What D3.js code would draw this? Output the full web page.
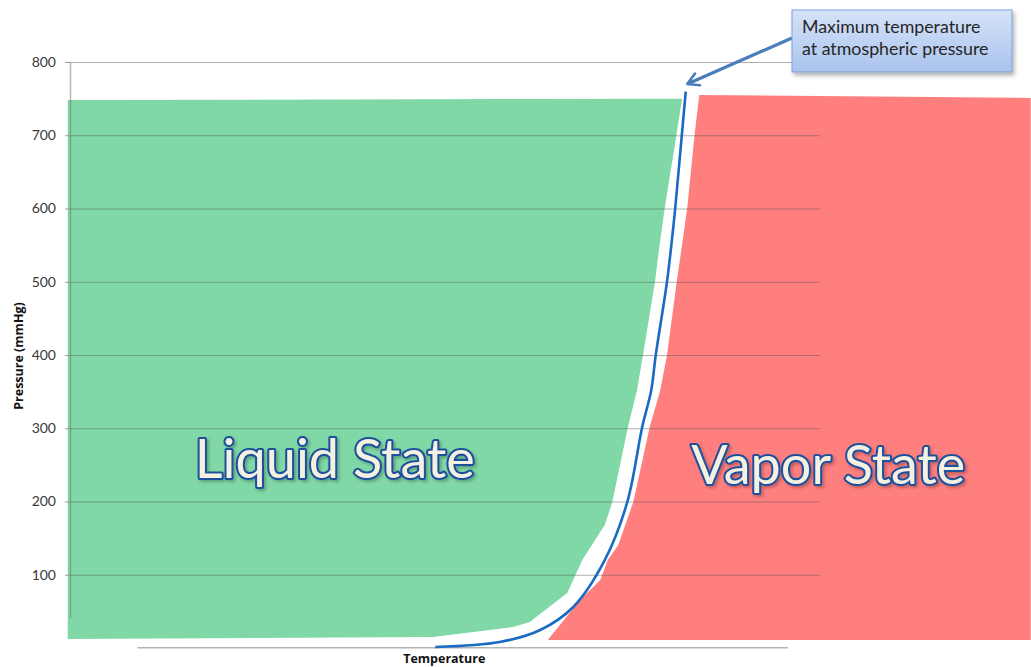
<!DOCTYPE html>
<html>
<head>
<meta charset="utf-8">
<script src="https://cdn.jsdelivr.net/npm/d3@7"></script>
<style>
  html, body { margin: 0; padding: 0; background: #ffffff; }
  svg { display: block; }
</style>
</head>
<body>
<svg id="chart" width="1031" height="667"></svg>
<script>
// ---- data (temperature in arbitrary units, pressure in mmHg) ----
const yTicks = [100, 200, 300, 400, 500, 600, 700, 800];

const curveTemp     = [48.7, 57.3, 62.7, 67.1, 71.3, 74.3, 76.3, 77.5, 78.1, 79.6, 80.4, 80.7, 81.6, 82.1];
const curvePressure = [1.4, 8.2, 24.6, 56, 120, 199, 302, 352, 400, 500, 571, 601, 703, 759.5];

const liquidTemp     = [-0.3, 48.4, 59.1, 61.3, 66.3, 68.3, 71.3, 72.3, 74.4, 75.6, 76.4, 78.0, 78.7, 79.3, 80.9, 81.6, -0.3];
const liquidPressure = [12.3, 15, 28.7, 35.5, 75, 120, 168, 199, 302, 352, 400, 500, 557, 601, 703, 750, 748];

const vaporTemp     = [63.7, 68.0, 70.7, 71.7, 73.1, 75.1, 77.3, 78.7, 79.6, 80.9, 81.7, 82.3, 83.3, 83.9, 128.1, 128.1];
const vaporPressure = [11, 65.5, 92.8, 120, 140.6, 199, 302, 352, 400, 500, 557, 601, 703, 755, 751, 11];

const regionLabels = ["Liquid State", "Vapor State"];
const regionLabelTemp = [35.3, 101.1];
const regionLabelPressure = [232, 224];

const calloutLines = ["Maximum temperature", "at atmospheric pressure"];
const xTitle = "Temperature";
const yTitle = "Pressure (mmHg)";

// ---- scales ----
const svg = d3.select("#chart");
const x = d3.scaleLinear().domain([0, 100]).range([70, 820]);
const y = d3.scaleLinear().domain([0, 800]).range([648, 62]);

const defs = svg.append("defs");
const grad = defs.append("linearGradient").attr("id", "boxGrad").attr("x1", 0).attr("y1", 0).attr("x2", 0).attr("y2", 1);
grad.append("stop").attr("offset", "0%").attr("stop-color", "#d6e3f8");
grad.append("stop").attr("offset", "100%").attr("stop-color", "#a9c3ee");
const shadow = defs.append("filter").attr("id", "shadow").attr("x", "-10%").attr("y", "-10%").attr("width", "130%").attr("height", "140%");
shadow.append("feDropShadow").attr("dx", 2).attr("dy", 3).attr("stdDeviation", 2).attr("flood-color", "#000").attr("flood-opacity", 0.3);
const tshadow = defs.append("filter").attr("id", "tshadow").attr("x", "-5%").attr("y", "-10%").attr("width", "115%").attr("height", "130%");
tshadow.append("feDropShadow").attr("dx", 2).attr("dy", 2).attr("stdDeviation", 1.5).attr("flood-color", "#000").attr("flood-opacity", 0.25);
defs.append("marker").attr("id", "arrowHead").attr("viewBox", "0 0 10 10")
  .attr("refX", 8).attr("refY", 5).attr("markerWidth", 5).attr("markerHeight", 5)
  .attr("orient", "auto")
  .append("path").attr("d", "M1,1 L8,5 L1,9").attr("fill", "none")
  .attr("stroke", "#4a7ebb").attr("stroke-width", 1.6).attr("stroke-linecap", "round").attr("stroke-linejoin", "round");

// ---- regions ----
const poly = d3.line().x(d => x(d[0])).y(d => y(d[1]));
svg.append("path")
  .attr("d", poly(liquidTemp.map((t, i) => [t, liquidPressure[i]])) + "Z")
  .attr("fill", "#80d8a7");
svg.append("path")
  .attr("d", poly(vaporTemp.map((t, i) => [t, vaporPressure[i]])) + "Z")
  .attr("fill", "#ff7f7f");

// ---- gridlines & axes ----
svg.append("g").selectAll("line").data(yTicks).join("line")
  .attr("x1", x(0)).attr("x2", x(100))
  .attr("y1", d => y(d) + 0.5).attr("y2", d => y(d) + 0.5)
  .attr("stroke", "#505050").attr("stroke-opacity", 0.45).attr("stroke-width", 1);

const yAxis = svg.append("g").attr("transform", `translate(${x(0)},0)`)
  .call(d3.axisLeft(y).tickValues(yTicks).tickSize(5).tickPadding(9).tickFormat(d3.format("d")));
yAxis.select(".domain").remove();
yAxis.selectAll(".tick line").attr("stroke", "#9a9a9a");
yAxis.selectAll("text").attr("font-family", "Lato, 'Open Sans', sans-serif").attr("font-size", 14).attr("fill", "#3a3a3a");
svg.append("line").attr("x1", x(0) + 0.5).attr("x2", x(0) + 0.5).attr("y1", y(800)).attr("y2", y(41))
  .attr("stroke", "#707070").attr("stroke-opacity", 0.5).attr("stroke-width", 1.5);

svg.append("line").attr("x1", x(9)).attr("x2", x(95.7)).attr("y1", y(0.5)).attr("y2", y(0.5))
  .attr("stroke", "#b4b4b4").attr("stroke-width", 1.5);

svg.append("text").text(xTitle)
  .attr("x", x(49.9)).attr("y", 663).attr("text-anchor", "middle")
  .attr("font-family", "'Open Sans', sans-serif").attr("font-weight", "bold").attr("font-size", 12.5).attr("fill", "#111");
svg.append("text").text(yTitle)
  .attr("transform", `translate(23,${y(400) + 1}) rotate(-90)`).attr("text-anchor", "middle")
  .attr("font-family", "'Open Sans', sans-serif").attr("font-weight", "bold").attr("font-size", 12.5).attr("fill", "#111");

// ---- vapor pressure curve ----
const curve = d3.line().x(d => x(d[0])).y(d => y(d[1])).curve(d3.curveCatmullRom.alpha(0.5));
svg.append("path")
  .attr("d", curve(curveTemp.map((t, i) => [t, curvePressure[i]])))
  .attr("fill", "none").attr("stroke", "#1a6ac4").attr("stroke-width", 2.6);

// ---- region labels ----
svg.append("g").selectAll("text").data(regionLabels).join("text")
  .text(d => d)
  .attr("x", (d, i) => x(regionLabelTemp[i])).attr("y", (d, i) => y(regionLabelPressure[i]))
  .attr("text-anchor", "middle")
  .attr("font-family", "Lato, 'Open Sans', sans-serif").attr("font-size", 55)
  .attr("textLength", (d, i) => i === 0 ? 280 : 274).attr("lengthAdjust", "spacingAndGlyphs")
  .attr("fill", "#f4f1e2").attr("stroke", "#1f4f9c").attr("stroke-width", 4.2)
  .attr("paint-order", "stroke").attr("stroke-linejoin", "round")
  .attr("filter", "url(#tshadow)");

// ---- callout ----
svg.append("line")
  .attr("x1", 792).attr("y1", 38).attr("x2", x(82.3)).attr("y2", y(770))
  .attr("stroke", "#4a7ebb").attr("stroke-width", 3.2).attr("marker-end", "url(#arrowHead)");
svg.append("rect").attr("x", 792).attr("y", 10).attr("width", 220).attr("height", 62)
  .attr("fill", "url(#boxGrad)").attr("stroke", "#7e9fd8").attr("stroke-width", 1)
  .attr("filter", "url(#shadow)");
svg.append("g").selectAll("text").data(calloutLines).join("text")
  .text(d => d)
  .attr("x", 802).attr("y", (d, i) => 33 + i * 22)
  .attr("font-family", "Lato, 'Open Sans', sans-serif").attr("font-size", 17.8).attr("fill", "#262626");
</script>
</body>
</html>
